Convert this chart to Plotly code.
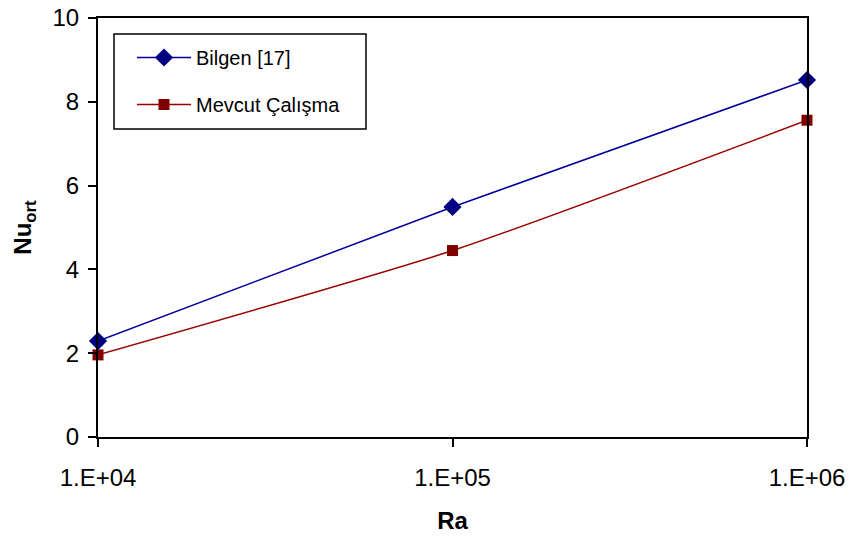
import plotly.graph_objects as go

ra = [1e4, 1e5, 1e6]
bilgen = [2.29, 5.49, 8.52]
mevcut = [1.96, 4.45, 7.56]
x_tickvals = [1e4, 1e5, 1e6]
x_ticktext = ["1.E+04", "1.E+05", "1.E+06"]
y_tickvals = [0, 2, 4, 6, 8, 10]

FONT = "Liberation Sans, Arial, sans-serif"

# plot area in pixels (for legend box placement)
PL, PR, PT, PB = 98, 807, 18, 437
def px(x):
    return (x - PL) / (PR - PL)
def py(y):
    return (PB - y) / (PB - PT)

fig = go.Figure()
fig.add_trace(go.Scatter(
    x=ra, y=bilgen, name="Bilgen [17]", mode="lines+markers",
    line=dict(color="#000099", width=1.5, shape="spline", smoothing=0.6),
    marker=dict(symbol="diamond", size=14, color="#000080"),
    legendgroup="a", cliponaxis=False))
fig.add_trace(go.Scatter(
    x=ra, y=mevcut, name="Mevcut Çalışma", mode="lines+markers",
    line=dict(color="#990000", width=1.5, shape="spline", smoothing=0.6),
    marker=dict(symbol="square", size=11, color="#800000"),
    legendgroup="b", cliponaxis=False))

fig.update_layout(
    width=851, height=540,
    margin=dict(l=98, r=44, t=18, b=103, autoexpand=False),
    paper_bgcolor="white", plot_bgcolor="white",
    font=dict(family=FONT, size=24, color="black"),
    showlegend=True,
    legend=dict(
        x=px(132), y=py(38), xanchor="left", yanchor="top",
        borderwidth=0, bgcolor="rgba(0,0,0,0)",
        font=dict(family=FONT, size=20, color="black"),
        traceorder="grouped", tracegroupgap=18,
        itemwidth=54,
    ),
    shapes=[dict(
        type="rect", xref="paper", yref="paper",
        x0=px(114), x1=px(366), y0=py(129), y1=py(34),
        line=dict(color="black", width=1.5), fillcolor="rgba(0,0,0,0)",
        layer="below",
    )],
    xaxis=dict(
        type="log", range=[4, 6],
        tickvals=x_tickvals, ticktext=x_ticktext,
        showline=True, linecolor="black", linewidth=2, mirror=True,
        ticks="outside", ticklen=8, tickwidth=2, tickcolor="black",
        showgrid=False, zeroline=False, automargin=False,
        tickfont=dict(family=FONT, size=24),
        ticklabelstandoff=10,
        title=dict(text="<b>Ra</b>", font=dict(family=FONT, size=24), standoff=22),
    ),
    yaxis=dict(
        range=[0, 10], tickvals=y_tickvals,
        showline=True, linecolor="black", linewidth=2, mirror=True,
        ticks="outside", ticklen=8, tickwidth=2, tickcolor="black",
        showgrid=False, zeroline=False, automargin=False,
        tickfont=dict(family=FONT, size=24),
        ticklabelstandoff=4,
        title=dict(text="<b>Nu<sub>ort</sub></b>", font=dict(family=FONT, size=24), standoff=14),
    ),
)

fig.write_html("out.html", config={"displayModeBar": False},
               post_script="document.body.style.margin='0';")
